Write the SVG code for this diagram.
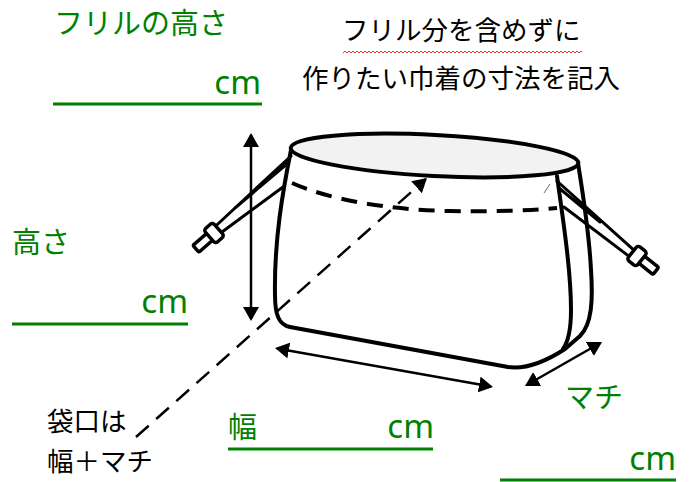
<svg xmlns="http://www.w3.org/2000/svg" width="689" height="482" viewBox="0 0 689 482">
<style>
.g{fill:#008000;font-family:"Noto Sans CJK JP",sans-serif;font-size:29px}
.k{fill:#000;font-family:"Noto Sans CJK JP",sans-serif;font-size:26.5px}
.cm{fill:#008000;font-family:"Noto Sans","Noto Sans CJK JP",sans-serif;font-size:33px;text-anchor:end}
.ul{stroke:#008000;stroke-width:3;fill:none}
.ln{fill:none;stroke:#000;stroke-width:4;stroke-linejoin:round;stroke-linecap:round}
.cord{fill:none;stroke:#000;stroke-width:3;stroke-linecap:round}
.tg{fill:#fff;stroke:#000;stroke-width:3.5;stroke-linejoin:round}
.arr{fill:none;stroke:#000;stroke-width:2.5;marker-start:url(#ah);marker-end:url(#ah)}
</style>
<defs>
<marker id="ah" viewBox="0 0 14 16" refX="12" refY="8" markerWidth="14" markerHeight="16" markerUnits="userSpaceOnUse" orient="auto-start-reverse"><path d="M0,0 L14,8 L0,16 z" fill="#000"/></marker>
<pattern id="wave" x="343" y="50" width="4" height="4" patternUnits="userSpaceOnUse"><path d="M0,3 L2,1 L4,3" fill="none" stroke="#e03030" stroke-width="1"/></pattern>
</defs>
<rect width="689" height="482" fill="#fff"/>

<g id="bag">
<path class="ln" style="fill:#fff" d="M291,150 C283,190 274,240 275,295 C275,315 279,325 290,327 L508,367 C528,370 548,360 565,349 L580,336 C592,324 593,300 591,270 C589,230 583,195 578,163"/>
<path class="ln" d="M557,176 C563,220 571,270 571,310 C571,330 568,342 563,349"/>
<ellipse cx="434.5" cy="155.5" rx="144" ry="20.5" transform="rotate(3 434.5 155.5)" fill="#f2f2f2" stroke="#000" stroke-width="4"/>
<path class="ln" stroke-dasharray="16 10" style="stroke-linecap:butt" d="M292,183 C330,200 390,210 450,211 C500,212 535,210 557,208"/>
<path d="M544,193 L550,184" stroke="#666" stroke-width="1"/>
</g>

<g id="cord-left">
<path class="cord" d="M291,156 L211.4,230 M283,187 L216.6,236 M288,163 L235,208"/>
<g transform="translate(214 233) rotate(138.8)">
<rect class="tg" x="4" y="-4.5" width="20" height="9" rx="1.5"/>
<rect class="tg" x="-6" y="-9" width="12" height="18" rx="3"/>
</g>
</g>

<g id="cord-right">
<path class="cord" d="M557,181 L632.5,248.9 M564,207 L627.5,255.1 M559,188 L600,222"/>
<g transform="translate(637 256) rotate(38.5)">
<rect class="tg" x="4" y="-4.5" width="20" height="9" rx="1.5"/>
<rect class="tg" x="-6" y="-9" width="12" height="18" rx="3"/>
</g>
</g>

<g id="connectors">
<line class="arr" x1="251" y1="135" x2="251" y2="319"/>
<line class="arr" x1="277" y1="348.4" x2="491" y2="386.6"/>
<line class="arr" x1="600.3" y1="343" x2="526.7" y2="385"/>
<line x1="136" y1="437" x2="425.5" y2="179.3" stroke="#000" stroke-width="2.5" stroke-dasharray="17 10" marker-end="url(#ah)"/>
</g>

<g id="note">
<text class="k" x="342" y="40">フリル分を含めずに</text>
<rect x="343" y="50" width="239" height="4" fill="url(#wave)"/>
<text class="k" x="302" y="88">作りたい巾着の寸法を記入</text>
</g>

<g id="frill-height">
<text class="g" x="54" y="34">フリルの高さ</text>
<text class="cm" x="261" y="94">cm</text>
<line class="ul" x1="53" y1="104" x2="262" y2="104"/>
</g>

<g id="height">
<text class="g" x="12" y="253">高さ</text>
<text class="cm" x="188" y="313">cm</text>
<line class="ul" x1="12" y1="324" x2="188" y2="324"/>
</g>

<g id="width">
<text class="g" x="228" y="438">幅</text>
<text class="cm" x="434" y="438">cm</text>
<line class="ul" x1="228" y1="449" x2="433" y2="449"/>
</g>

<g id="gusset">
<text class="g" x="565" y="408">マチ</text>
<text class="cm" x="676" y="470">cm</text>
<line class="ul" x1="500" y1="480" x2="676" y2="480"/>
</g>

<g id="opening-note">
<text class="k" x="47" y="431">袋口は</text>
<text class="k" x="47" y="471">幅＋マチ</text>
</g>
</svg>
